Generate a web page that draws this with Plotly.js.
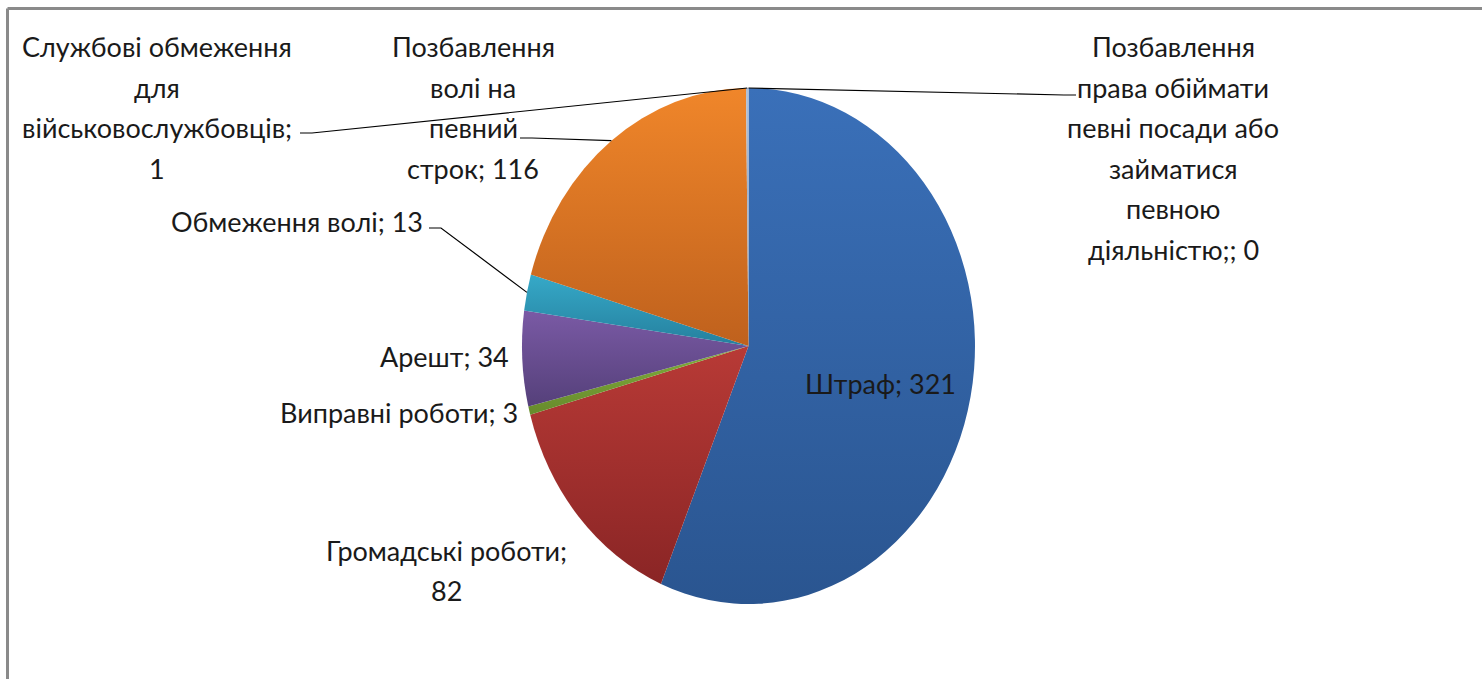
<!DOCTYPE html>
<html>
<head>
<meta charset="utf-8">
<script src="https://cdn.plot.ly/plotly-3.0.1.min.js"></script>
<style>
  html, body { margin: 0; padding: 0; background: #ffffff; }
  #chart { width: 1482px; height: 679px; }
</style>
</head>
<body>
<div id="chart"></div>
<script>
// ---- DATA ----
const categories = [
  "Штраф",
  "Громадські роботи",
  "Виправні роботи",
  "Арешт",
  "Обмеження волі",
  "Позбавлення волі на певний строк",
  "Службові обмеження для військовослужбовців",
  "Позбавлення права обіймати певні посади або займатися певною діяльністю;"
];
const values = [321, 82, 3, 34, 13, 116, 1, 0];
const colors = ["#3263a5", "#a02f2f", "#77a035", "#664b8b", "#2c97b7", "#d9741f", "#9fb1cc", "#7f7f7f"];
// lighter (top) and darker (bottom) tones of each slice's shading
const colorsTop = ["#3a70b9", "#b83a36", "#82ae3c", "#7a5aa5", "#36a9c8", "#f0862a", "#b0c0d8", "#8f8f8f"];
const colorsBottom = ["#2a5590", "#8a2525", "#668a2c", "#55407a", "#25809e", "#bf611d", "#8fa0b8", "#6f6f6f"];

// ---- LAYOUT CONSTANTS (pixels) ----
const W = 1482, H = 679;
const CX = 748.5, CY = 346, RX = 226.5, RY = 258;
const K = RY / RX;
const FONT = "Lato, 'Open Sans', 'Liberation Sans', sans-serif";
const FSIZE = 27;
const LINE_GAP = 40.4;

// label layout: words per line, center x, first line y, leader line spec
const labelLayout = [
  { words: [2], x: 880, y: 383 },
  { words: [2, 1], x: 446, y: 550 },
  { words: [3], x: 399, y: 413 },
  { words: [2], x: 444, y: 356 },
  { words: [3], x: 297, y: 222, leader: { x: 429, y: 228, dir: 1 } },
  { words: [1, 2, 1, 2], x: 473, y: 47, leader: { x: 520, y: 138, dir: 1 } },
  { words: [2, 1, 1, 1], x: 157, y: 47, leader: { x: 300, y: 133, dir: 1 } },
  { words: [1, 2, 3, 1, 1, 2], x: 1173, y: 47, leader: { x: 1076, y: 95, dir: -1 } }
];

const px = v => v / W;
const py = v => 1 - v / H;

const total = values.reduce((a, b) => a + b, 0);
const annotations = [];
const shapes = [];

let cum = 0;
values.forEach((v, i) => {
  const midFrac = (cum + v / 2) / total;
  cum += v;
  const lay = labelLayout[i];
  const full = categories[i] + "; " + v;
  const words = full.split(" ");
  let idx = 0;
  lay.words.forEach((n, li) => {
    const line = words.slice(idx, idx + n).join(" ");
    idx += n;
    annotations.push({
      text: line, xref: "paper", yref: "paper",
      x: px(lay.x), y: py(lay.y + li * LINE_GAP),
      xanchor: "center", yanchor: "middle", showarrow: false,
      font: { family: FONT, size: FSIZE, color: "#1a1a1a" }
    });
  });
  if (lay.leader) {
    const ang = midFrac * 2 * Math.PI; // clockwise from 12 o'clock
    const ex = CX + Math.sin(ang) * RX;
    const ey = CY - Math.cos(ang) * RY;
    const hx = lay.leader.x + lay.leader.dir * 12;
    shapes.push({
      type: "path", xref: "paper", yref: "paper",
      path: `M ${px(lay.leader.x)} ${py(lay.leader.y)} L ${px(hx)} ${py(lay.leader.y)} L ${px(ex)} ${py(ey)}`,
      line: { color: "#000000", width: 1.2 }
    });
  }
});

// chart frame (top and left edges visible)
shapes.push({ type: "line", xref: "paper", yref: "paper", x0: px(7.5), y0: py(8.5), x1: 1, y1: py(8.5), line: { color: "#8a8a8a", width: 3 } });
shapes.push({ type: "line", xref: "paper", yref: "paper", x0: px(7.5), y0: py(8.5), x1: px(7.5), y1: 0, line: { color: "#8a8a8a", width: 3 } });

const trace = {
  type: "pie",
  labels: categories,
  values: values,
  sort: false,
  direction: "clockwise",
  rotation: 0,
  textinfo: "none",
  hoverinfo: "label+value",
  marker: { colors: colors, line: { width: 0 } },
  showlegend: false,
  domain: { x: [(CX - RX) / W, (CX + RX) / W], y: [1 - (CY + RX) / H, 1 - (CY - RX) / H] }
};

const layout = {
  width: W, height: H,
  margin: { l: 0, r: 0, t: 0, b: 0 },
  paper_bgcolor: "#ffffff",
  showlegend: false,
  annotations: annotations,
  shapes: shapes
};

Plotly.newPlot("chart", [trace], layout, { displayModeBar: false, staticPlot: true }).then(gd => {
  const NS = "http://www.w3.org/2000/svg";
  const svg = gd.querySelector("svg.main-svg");
  let defs = svg.querySelector("defs");
  if (!defs) { defs = document.createElementNS(NS, "defs"); svg.insertBefore(defs, svg.firstChild); }
  colorsTop.forEach((c, i) => {
    const g = document.createElementNS(NS, "linearGradient");
    g.setAttribute("id", "sliceGrad" + i);
    g.setAttribute("x1", "0"); g.setAttribute("y1", "0");
    g.setAttribute("x2", "0"); g.setAttribute("y2", "1");
    [[0, c], [1, colorsBottom[i]]].forEach(([o, col]) => {
      const s = document.createElementNS(NS, "stop");
      s.setAttribute("offset", o);
      s.setAttribute("stop-color", col);
      g.appendChild(s);
    });
    defs.appendChild(g);
  });
  // shade each slice from light (top) to dark (bottom)
  gd.querySelectorAll(".pielayer .slice").forEach(sl => {
    const d = sl.__data__;
    const path = sl.querySelector("path.surface");
    if (d && path) path.style.fill = `url(#sliceGrad${d.i})`;
  });
  // stretch the pie vertically into the ellipse of the original picture
  const pl = gd.querySelector(".pielayer");
  if (pl) pl.setAttribute("transform", `matrix(1,0,0,${K},0,${CY * (1 - K)})`);
});
</script>
</body>
</html>
